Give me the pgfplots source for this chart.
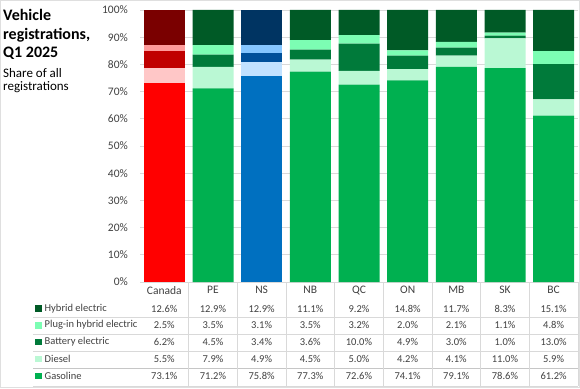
\documentclass[border=0pt]{standalone}
\usepackage{pgfplots}
\pgfplotsset{compat=1.18}
\usepackage{pgfplotstable}
\usepackage{fontspec}
\setmainfont{Carlito}

\definecolor{gGas}{HTML}{00B050}
\definecolor{gDsl}{HTML}{BAF8D4}
\definecolor{gBat}{HTML}{007A3A}
\definecolor{gPhe}{HTML}{7CFDB3}
\definecolor{gHyb}{HTML}{005A26}
\definecolor{rGas}{HTML}{FF0000}
\definecolor{rDsl}{HTML}{FFC7C7}
\definecolor{rBat}{HTML}{C00000}
\definecolor{rPhe}{HTML}{FF9B9B}
\definecolor{rHyb}{HTML}{7A0000}
\definecolor{bGas}{HTML}{0070C0}
\definecolor{bDsl}{HTML}{C2E2FF}
\definecolor{bBat}{HTML}{00509A}
\definecolor{bPhe}{HTML}{85C6FF}
\definecolor{bHyb}{HTML}{003462}
\definecolor{txt}{HTML}{404040}

% provinces drawn in green
\pgfplotstableread{
x gas dsl bat phev hyb
1 71.2 7.9 4.5 3.5 12.9
3 77.3 4.5 3.6 3.5 11.1
4 72.6 5.0 10.0 3.2 9.2
5 74.1 4.2 4.9 2.0 14.8
6 79.1 4.1 3.0 2.1 11.7
7 78.6 11.0 1.0 1.1 8.3
8 61.2 5.9 13.0 4.8 15.1
}\greentab
% Canada
\pgfplotstableread{
x gas dsl bat phev hyb
0 73.1 5.5 6.2 2.5 12.6
}\redtab
% Nova Scotia
\pgfplotstableread{
x gas dsl bat phev hyb
2 75.8 4.9 3.4 3.1 12.9
}\bluetab

\pgfplotsset{
  base/.style={
    at={(140pt,106pt)}, anchor=south west,
    scale only axis, width=438pt, height=272pt,
    xmin=-0.5, xmax=8.5, ymin=0, ymax=100,
    ybar stacked, bar width=41pt,
    every axis plot/.append style={draw=none},
  },
  hidden/.style={axis line style={draw=none}, xtick=\empty, ytick=\empty},
}

\begin{document}
\begin{tikzpicture}
\begin{scope}[x=1pt,y=1pt]
\path (0,0) rectangle (580,388);
\draw[gray!25] (0.5,0.5) rectangle (579.5,387.5);
\end{scope}

\begin{axis}[base,
  axis line style={draw=none}, tick style={draw=none},
  ymajorgrids, grid style={gray!30, line width=0.7pt},
  ytick={0,10,...,100},
  yticklabels={0\%,10\%,20\%,30\%,40\%,50\%,60\%,70\%,80\%,90\%,100\%},
  xtick={0,...,8},
  xticklabels={Canada,PE,NS,NB,QC,ON,MB,SK,BC},
  ticklabel style={font=\fontsize{11.5}{13}\selectfont, text=txt, inner sep=0pt},
  yticklabel style={anchor=east, xshift=-12pt},
  xticklabel style={anchor=north, yshift=-4pt},
]
\addplot[fill=gGas] table[x=x,y=gas]{\greentab};
\addplot[fill=gDsl] table[x=x,y=dsl]{\greentab};
\addplot[fill=gBat] table[x=x,y=bat]{\greentab};
\addplot[fill=gPhe] table[x=x,y=phev]{\greentab};
\addplot[fill=gHyb] table[x=x,y=hyb]{\greentab};
\end{axis}

\begin{axis}[base, hidden]
\addplot[fill=rGas] table[x=x,y=gas]{\redtab};
\addplot[fill=rDsl] table[x=x,y=dsl]{\redtab};
\addplot[fill=rBat] table[x=x,y=bat]{\redtab};
\addplot[fill=rPhe] table[x=x,y=phev]{\redtab};
\addplot[fill=rHyb] table[x=x,y=hyb]{\redtab};
\end{axis}

\begin{axis}[base, hidden]
\addplot[fill=bGas] table[x=x,y=gas]{\bluetab};
\addplot[fill=bDsl] table[x=x,y=dsl]{\bluetab};
\addplot[fill=bBat] table[x=x,y=bat]{\bluetab};
\addplot[fill=bPhe] table[x=x,y=phev]{\bluetab};
\addplot[fill=bHyb] table[x=x,y=hyb]{\bluetab};
\end{axis}

\begin{scope}[x=1pt,y=1pt]
% title
\node[anchor=base west, inner sep=0, font=\fontsize{16}{18}\selectfont\bfseries] at (3,367) {Vehicle};
\node[anchor=base west, inner sep=0, font=\fontsize{16}{18}\selectfont\bfseries] at (3,348) {registrations,};
\node[anchor=base west, inner sep=0, font=\fontsize{16}{18}\selectfont\bfseries] at (3,330) {Q1 2025};
\node[anchor=base west, inner sep=0, font=\fontsize{13}{15}\selectfont] at (3,310) {Share of all};
\node[anchor=base west, inner sep=0, font=\fontsize{13}{15}\selectfont] at (3,297.3) {registrations};

% data table grid
\foreach \yy in {70.3,54,36.7,2} \draw[gray!30, line width=0.7pt] (33,\yy) -- (578,\yy);
\draw[gray!45, line width=1.1pt] (33,19.3) -- (578,19.3);
\foreach \i in {1,...,9} \draw[gray!30, line width=0.7pt] ({140+48.667*\i},2) -- ({140+48.667*\i},106);

\begin{scope}[font=\fontsize{10.5}{12}\selectfont, text=txt]
\foreach \lab/\col/\yy in {Hybrid electric/gHyb/79.5, Plug-in hybrid electric/gPhe/62.8, Battery electric/gBat/46, Diesel/gDsl/29, Gasoline/gGas/12} {
  \fill[\col] (35,{\yy-3.3}) rectangle ++(6.7,6.7);
  \node[anchor=west, inner sep=0] at (44.5,\yy) {\lab};
}
\foreach \v [count=\i from 0] in {12.6,12.9,12.9,11.1,9.2,14.8,11.7,8.3,15.1}
  \node[inner sep=0] at ({164.3+48.667*\i},79.5) {\v\%};
\foreach \v [count=\i from 0] in {2.5,3.5,3.1,3.5,3.2,2.0,2.1,1.1,4.8}
  \node[inner sep=0] at ({164.3+48.667*\i},62.8) {\v\%};
\foreach \v [count=\i from 0] in {6.2,4.5,3.4,3.6,10.0,4.9,3.0,1.0,13.0}
  \node[inner sep=0] at ({164.3+48.667*\i},46) {\v\%};
\foreach \v [count=\i from 0] in {5.5,7.9,4.9,4.5,5.0,4.2,4.1,11.0,5.9}
  \node[inner sep=0] at ({164.3+48.667*\i},29) {\v\%};
\foreach \v [count=\i from 0] in {73.1,71.2,75.8,77.3,72.6,74.1,79.1,78.6,61.2}
  \node[inner sep=0] at ({164.3+48.667*\i},12) {\v\%};
\end{scope}
\end{scope}
\end{tikzpicture}
\end{document}
